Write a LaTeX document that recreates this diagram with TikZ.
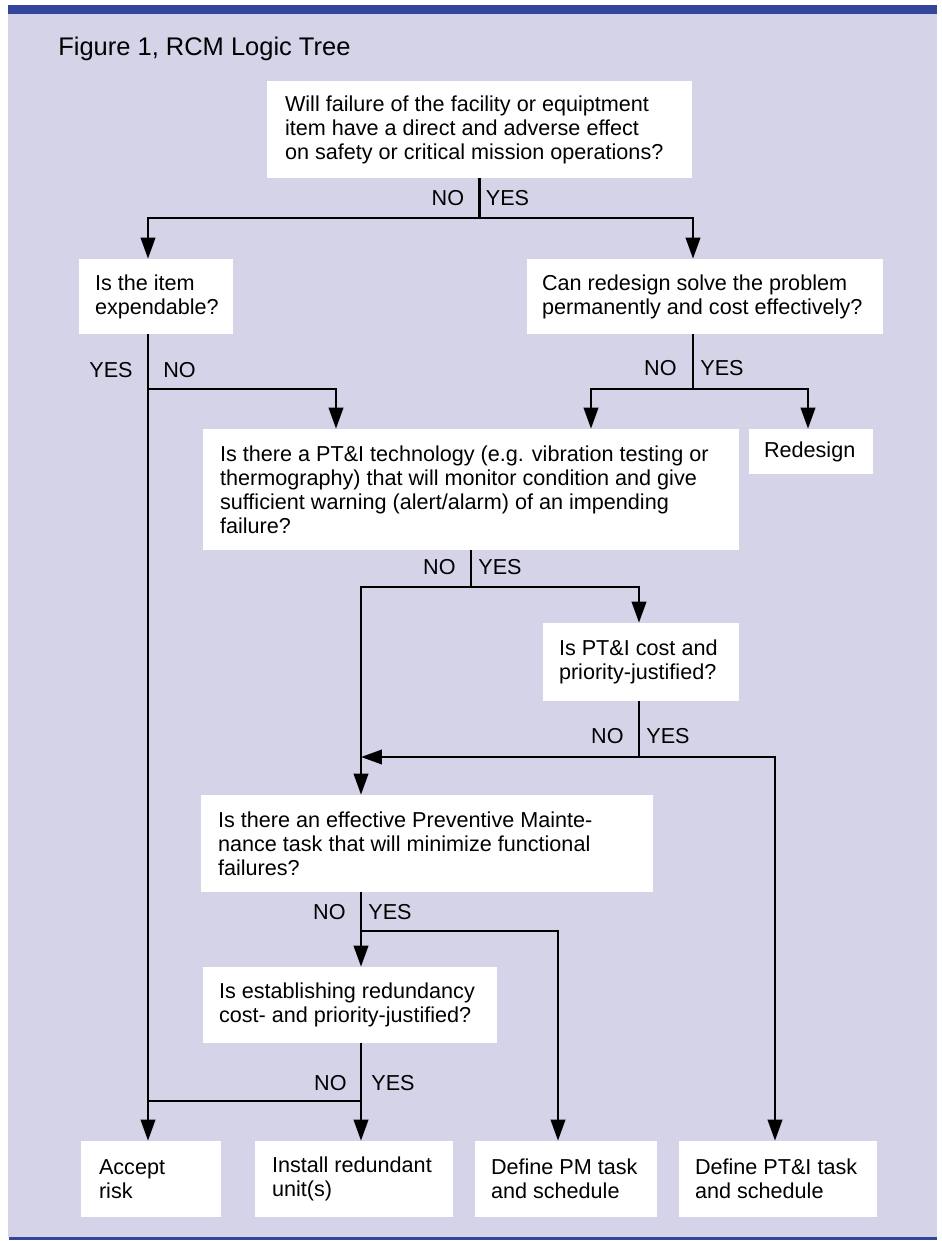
\documentclass[tikz,border=0pt]{standalone}
\usepackage{fontspec}
\setmainfont{Liberation Sans}
\usepackage{xcolor}
\usetikzlibrary{positioning}
\usetikzlibrary{arrows.meta}

\definecolor{lavender}{RGB}{213,211,232}
\definecolor{barblue}{RGB}{52,70,155}
\newcommand{\boxfont}{\fontsize{12.3}{13.7}\selectfont}

\begin{document}
\begin{tikzpicture}[x=0.02cm, y=-0.02cm,
    qbox/.style={rectangle, fill=white, inner ysep=0pt, align=flush left, font=\boxfont},
    lbl/.style={inner sep=0pt, font=\boxfont},
    link/.style={line width=1.3pt},
    flow/.style={line width=1.3pt, -{Triangle[length=0.42cm,width=0.29cm]}}]
    \useasboundingbox (0,0) rectangle (941,1241);
    % frame
    \fill[lavender] (8,14) rectangle (937,1237);
    \fill[barblue] (8,5) rectangle (937,14);
    \fill[barblue] (9,1237) rectangle (937,1240);
    \node[anchor=base west, inner sep=0pt, font=\fontsize{14.5}{17}\selectfont] (title) at (58,55) {Figure 1, RCM Logic Tree};
    % questions
    \node[qbox, text width=7.78cm, inner xsep=0.36cm, minimum height=1.94cm] (q1) at (479.5,129.5) {Will failure of the facility or equiptment\\item have a direct and adverse effect\\on safety or critical mission operations?};
    \node[qbox, text width=2.44cm, inner xsep=0.32cm, minimum height=1.5cm] (q2) at (156,296.5) {Is the item\\expendable?};
    \node[qbox, text width=6.52cm, inner xsep=0.3cm, minimum height=1.5cm] (q3) at (705,296.5) {Can redesign solve the problem\\permanently and cost effectively?};
    \node[qbox, text width=10.04cm, inner xsep=0.34cm, minimum height=2.42cm] (q4) at (471,489.5) {Is there a PT\&I technology (e.g. vibration testing or\\thermography) that will monitor condition and give\\sufficient warning (alert/alarm) of an impending\\failure?};
    \node[qbox, text width=3.28cm, inner xsep=0.32cm, minimum height=1.56cm] (q5) at (641,662) {Is PT\&I cost and\\priority-justified?};
    \node[qbox, text width=8.36cm, inner xsep=0.34cm, minimum height=1.94cm] (q6) at (427,843.5) {Is there an effective Preventive Mainte-\\nance task that will minimize functional\\failures?};
    \node[qbox, text width=5.24cm, inner xsep=0.32cm, minimum height=1.52cm] (q7) at (350,1005) {Is establishing redundancy\\cost- and priority-justified?};
    % answers
    \node[qbox, text width=1.88cm, inner xsep=0.3cm, minimum height=0.9cm] (redesign) at (811,451.5) {Redesign};
    \node[qbox, text width=2.08cm, inner xsep=0.36cm, minimum height=1.52cm] (a1) at (151,1179) {Accept\\risk};
    \node[qbox, text width=3.28cm, inner xsep=0.34cm, minimum height=1.52cm] (a2) at (354,1179) {Install redundant\\unit(s)};
    \node[qbox, text width=3.0cm, inner xsep=0.32cm, minimum height=1.52cm] (a3) at (566,1179) {Define PM task\\and schedule};
    \node[qbox, text width=3.32cm, inner xsep=0.32cm, minimum height=1.52cm] (a4) at (778,1179) {Define PT\&I task\\and schedule};
    % junctions
    \coordinate (j1) at (479.5,218);
    \coordinate (j2) at (148,389);
    \coordinate (t1) at (336,389);
    \coordinate (j3) at (693,389);
    \coordinate (t2) at (591,389);
    \coordinate (t3) at (808,389);
    \coordinate (j4) at (471,587);
    \coordinate (j5) at (639,757);
    \coordinate (m5) at (361,757);
    \coordinate (t6) at (775,757);
    \coordinate (j6) at (361,931);
    \coordinate (t7) at (558,931);
    \coordinate (j7) at (361,1101);
    \coordinate (t8) at (148,1101);
    % branches
    \draw[link] (q1.south) -- (j1);
    \draw[flow] (j1) -| (q2.north -| j2);
    \draw[flow] (j1) -| (q3.north -| j3);
    \draw[flow] (q2.south -| j2) -- (a1.north -| j2);
    \draw[flow] (j2) -| (q4.north -| t1);
    \draw[link] (q3.south -| j3) -- (j3);
    \draw[flow] (j3) -| (q4.north -| t2);
    \draw[flow] (j3) -| (redesign.north -| t3);
    \draw[link] (q4.south) -- (j4);
    \draw[flow] (j4) -| (q5.north -| j5);
    \draw[flow] (j4) -| (q6.north -| j6);
    \draw[link] (q5.south -| j5) -- (j5);
    \draw[flow] (j5) -- (m5);
    \draw[flow] (j5) -| (a4.north -| t6);
    \draw[flow] (q6.south -| j6) -- (q7.north -| j6);
    \draw[flow] (j6) -| (a3.north -| t7);
    \draw[flow] (q7.south -| j7) -- (a2.north -| j7);
    \draw[link] (j7) -- (t8);
    % yes / no
    \node[lbl, above left=0.23cm and 0.3cm of j1] (n1) {NO};
    \node[lbl, above right=0.23cm and 0.12cm of j1] (y1) {YES};
    \node[lbl, above left=0.21cm and 0.3cm of j2] (y2) {YES};
    \node[lbl, above right=0.21cm and 0.3cm of j2] (n2) {NO};
    \node[lbl, above left=0.25cm and 0.32cm of j3] (n3) {NO};
    \node[lbl, above right=0.25cm and 0.14cm of j3] (y3) {YES};
    \node[lbl, above left=0.23cm and 0.3cm of j4] (n4) {NO};
    \node[lbl, above right=0.23cm and 0.14cm of j4] (y4) {YES};
    \node[lbl, above left=0.25cm and 0.3cm of j5] (n5) {NO};
    \node[lbl, above right=0.25cm and 0.14cm of j5] (y5) {YES};
    \node[lbl, above left=0.21cm and 0.3cm of j6] (n6) {NO};
    \node[lbl, above right=0.21cm and 0.14cm of j6] (y6) {YES};
    \node[lbl, above left=0.19cm and 0.28cm of j7] (n7) {NO};
    \node[lbl, above right=0.19cm and 0.2cm of j7] (y7) {YES};
\end{tikzpicture}
\end{document}
